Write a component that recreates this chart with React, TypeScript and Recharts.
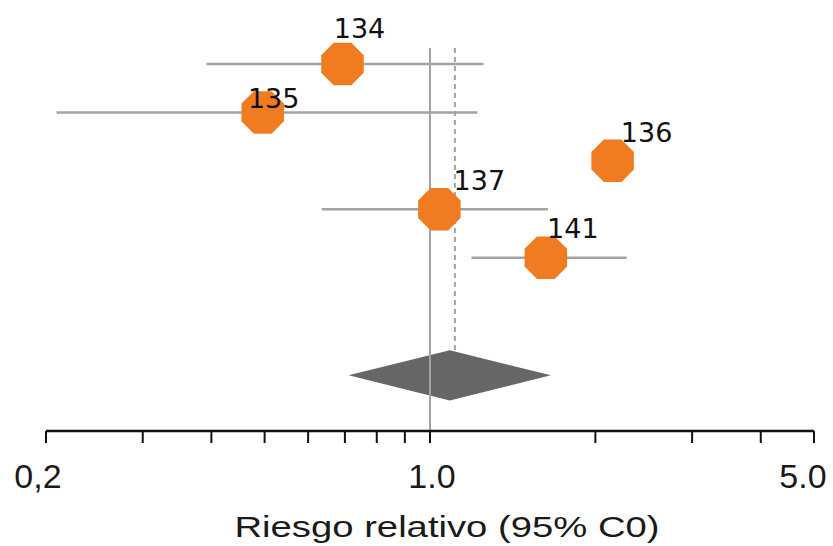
import { ScatterChart, Scatter, XAxis, YAxis, ReferenceLine, ReferenceArea } from 'recharts';

// studies, one row each (top to bottom)
const studies = ['134', '135', '136', '137', '141'];
const rowIndex = [1, 2, 3, 4, 5];
const riskRatio = [0.693, 0.496, 2.15, 1.04, 1.625];
const ciLow: (number | null)[] = [0.392, 0.209, null, 0.635, 1.19];
const ciHigh: (number | null)[] = [1.251, 1.22, null, 1.64, 2.28];

// pooled estimate (diamond)
const pooledRow = 7.43;
const pooledLow = 0.711;
const pooledHigh = 1.66;
const pooledValue = 1.11;
const nullValue = 1;

const xTicks = [0.2, 0.3, 0.4, 0.5, 0.6, 0.7, 0.8, 0.9, 1, 2, 3, 4, 5];
const tickText: Record<number, string> = { 0.2: '0,2', 1: '1.0', 5: '5.0' };

const points = studies.map((s, i) => ({ study: s, x: riskRatio[i], y: rowIndex[i] }));

// where each study number sits relative to its marker
const labelOffset: Record<string, [number, number]> = {
  '134': [17, -35],
  '135': [11, -14],
  '136': [34, -28],
  '137': [40, -29],
  '141': [27, -29],
};
// small nudges so the end labels stay inside the frame
const tickShift: Record<number, number> = { 0.2: -8, 1: 2, 5: -11 };

const ORANGE = '#F07B20';
const GREY = '#a3a3a3';

const Octagon = (props: any) => {
  const { cx, cy, payload } = props;
  const r = 23;
  const pts = Array.from({ length: 8 }, (_, i) => {
    const a = Math.PI / 8 + (i * Math.PI) / 4;
    return `${cx + r * Math.cos(a)},${cy + r * Math.sin(a)}`;
  }).join(' ');
  const [dx, dy] = labelOffset[payload.study] ?? [28, -30];
  return (
    <g>
      <polygon points={pts} fill={ORANGE} />
      <text
        x={cx + dx}
        y={cy + dy}
        textAnchor="middle"
        dominantBaseline="central"
        fontFamily="'DejaVu Sans', sans-serif"
        fontSize={27}
        fill="#111"
      >
        {payload.study}
      </text>
    </g>
  );
};

const Diamond = (props: any) => {
  const { x, y, width, height } = props;
  const mx = x + width / 2;
  const my = y + height / 2;
  return <polygon points={`${x},${my} ${mx},${y} ${x + width},${my} ${mx},${y + height}`} fill="#666666" />;
};

const TickLabel = (props: any) => {
  const { x, y, payload } = props;
  const txt = tickText[payload.value];
  if (!txt) return null;
  return (
    <text
      x={x + (tickShift[payload.value] ?? 0)}
      y={y + 24}
      textAnchor="middle"
      fontFamily="'Liberation Sans', Arial, sans-serif"
      fontSize={34}
      fill="#1a1a1a"
    >
      {txt}
    </text>
  );
};

const AxisTitle = (props: any) => {
  const vb = props.viewBox;
  return (
    <text
      x={vb.x + vb.width / 2 + 17}
      y={vb.y + 106}
      textAnchor="middle"
      fontFamily="'Liberation Sans', Arial, sans-serif"
      fontSize={30}
      fill="#1a1a1a"
      textLength={425}
      lengthAdjust="spacingAndGlyphs"
    >
      Riesgo relativo (95% C0)
    </text>
  );
};

export default function App() {
  return (
    <div style={{ position: 'absolute', left: 0, top: 0, background: '#fff' }}>
      <ScatterChart width={833} height={546} margin={{ top: 48, right: 19, left: 46, bottom: 0 }}>
        <XAxis
          dataKey="x"
          type="number"
          scale="log"
          domain={[0.2, 5]}
          ticks={xTicks}
          interval={0}
          height={115}
          tickSize={12}
          tickMargin={21}
          stroke="#111"
          axisLine={{ stroke: '#111', strokeWidth: 2.5 }}
          tickLine={{ stroke: '#111', strokeWidth: 2 }}
          tick={TickLabel}
          label={{ content: AxisTitle }}
        />
        <YAxis dataKey="y" type="number" domain={[0.67, 8.58]} reversed hide />
        <ReferenceLine x={nullValue} stroke={GREY} strokeWidth={2} />
        <ReferenceLine
          segment={[
            { x: pooledValue, y: 0.67 },
            { x: pooledValue, y: pooledRow - 0.52 },
          ]}
          stroke={GREY}
          strokeWidth={2}
          strokeDasharray="5 4"
        />
        {studies.map((s, i) =>
          ciLow[i] != null && ciHigh[i] != null ? (
            <ReferenceLine
              key={s}
              segment={[
                { x: ciLow[i] as number, y: rowIndex[i] },
                { x: ciHigh[i] as number, y: rowIndex[i] },
              ]}
              stroke={GREY}
              strokeWidth={2.5}
            />
          ) : null
        )}
        <ReferenceArea
          x1={pooledLow}
          x2={pooledHigh}
          y1={pooledRow - 0.52}
          y2={pooledRow + 0.52}
          shape={Diamond}
        />
        <Scatter data={points} shape={Octagon} isAnimationActive={false} />
      </ScatterChart>
    </div>
  );
}
